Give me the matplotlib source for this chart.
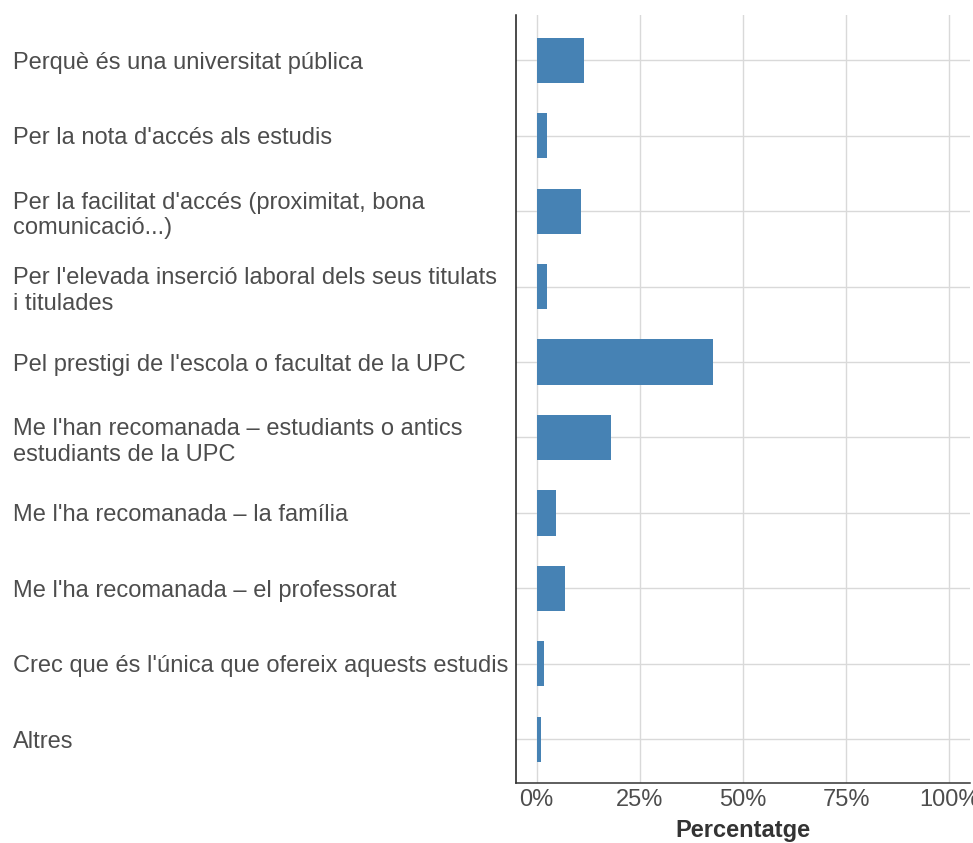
import matplotlib
matplotlib.use("Agg")
import matplotlib.pyplot as plt

categories = [
    "Perquè és una universitat pública",
    "Per la nota d'accés als estudis",
    "Per la facilitat d'accés (proximitat, bona\ncomunicació...)",
    "Per l'elevada inserció laboral dels seus titulats\ni titulades",
    "Pel prestigi de l'escola o facultat de la UPC",
    "Me l'han recomanada – estudiants o antics\nestudiants de la UPC",
    "Me l'ha recomanada – la família",
    "Me l'ha recomanada – el professorat",
    "Crec que és l'única que ofereix aquests estudis",
    "Altres",
]
values = [11.4, 2.4, 10.7, 2.4, 42.7, 18.0, 4.6, 6.8, 1.7, 1.0]
xticks = [0, 25, 50, 75, 100]
xticklabels = ["0%", "25%", "50%", "75%", "100%"]

plt.rcParams['font.family'] = ['Liberation Sans', 'DejaVu Sans']

fig = plt.figure(figsize=(9.73, 8.43), dpi=100)
ax = fig.add_axes([516/973, 60/843, 454/973, 768/843])

ypos = list(range(len(categories)))
ax.barh(ypos, values, height=0.6, color="#4682B4", zorder=3)

ax.set_xlim(-5, 105)
ax.set_ylim(len(categories) - 0.42, -0.6)

ax.set_xticks(xticks)
ax.set_xticklabels(xticklabels, fontsize=17, color="#4d4d4d")
ax.set_yticks(ypos)
ax.set_yticklabels(categories, fontsize=17, color="#4d4d4d", ha="left",
                   linespacing=1.22)
ax.tick_params(axis="y", length=0, pad=(516 - 13) * 72 / 100)
ax.tick_params(axis="x", length=0, pad=4)

ax.grid(True, color="#d9d9d9", linewidth=1.0, zorder=0)
ax.set_axisbelow(True)

for s in ["top", "right"]:
    ax.spines[s].set_visible(False)
ax.spines["left"].set_color("#1a1a1a")
ax.spines["left"].set_linewidth(1.1)
ax.spines["bottom"].set_color("#333333")
ax.spines["bottom"].set_linewidth(1.1)

ax.set_xlabel("Percentatge", fontsize=17, fontweight="bold", color="#333333",
              labelpad=6)

fig.savefig("out.png", dpi=100)
